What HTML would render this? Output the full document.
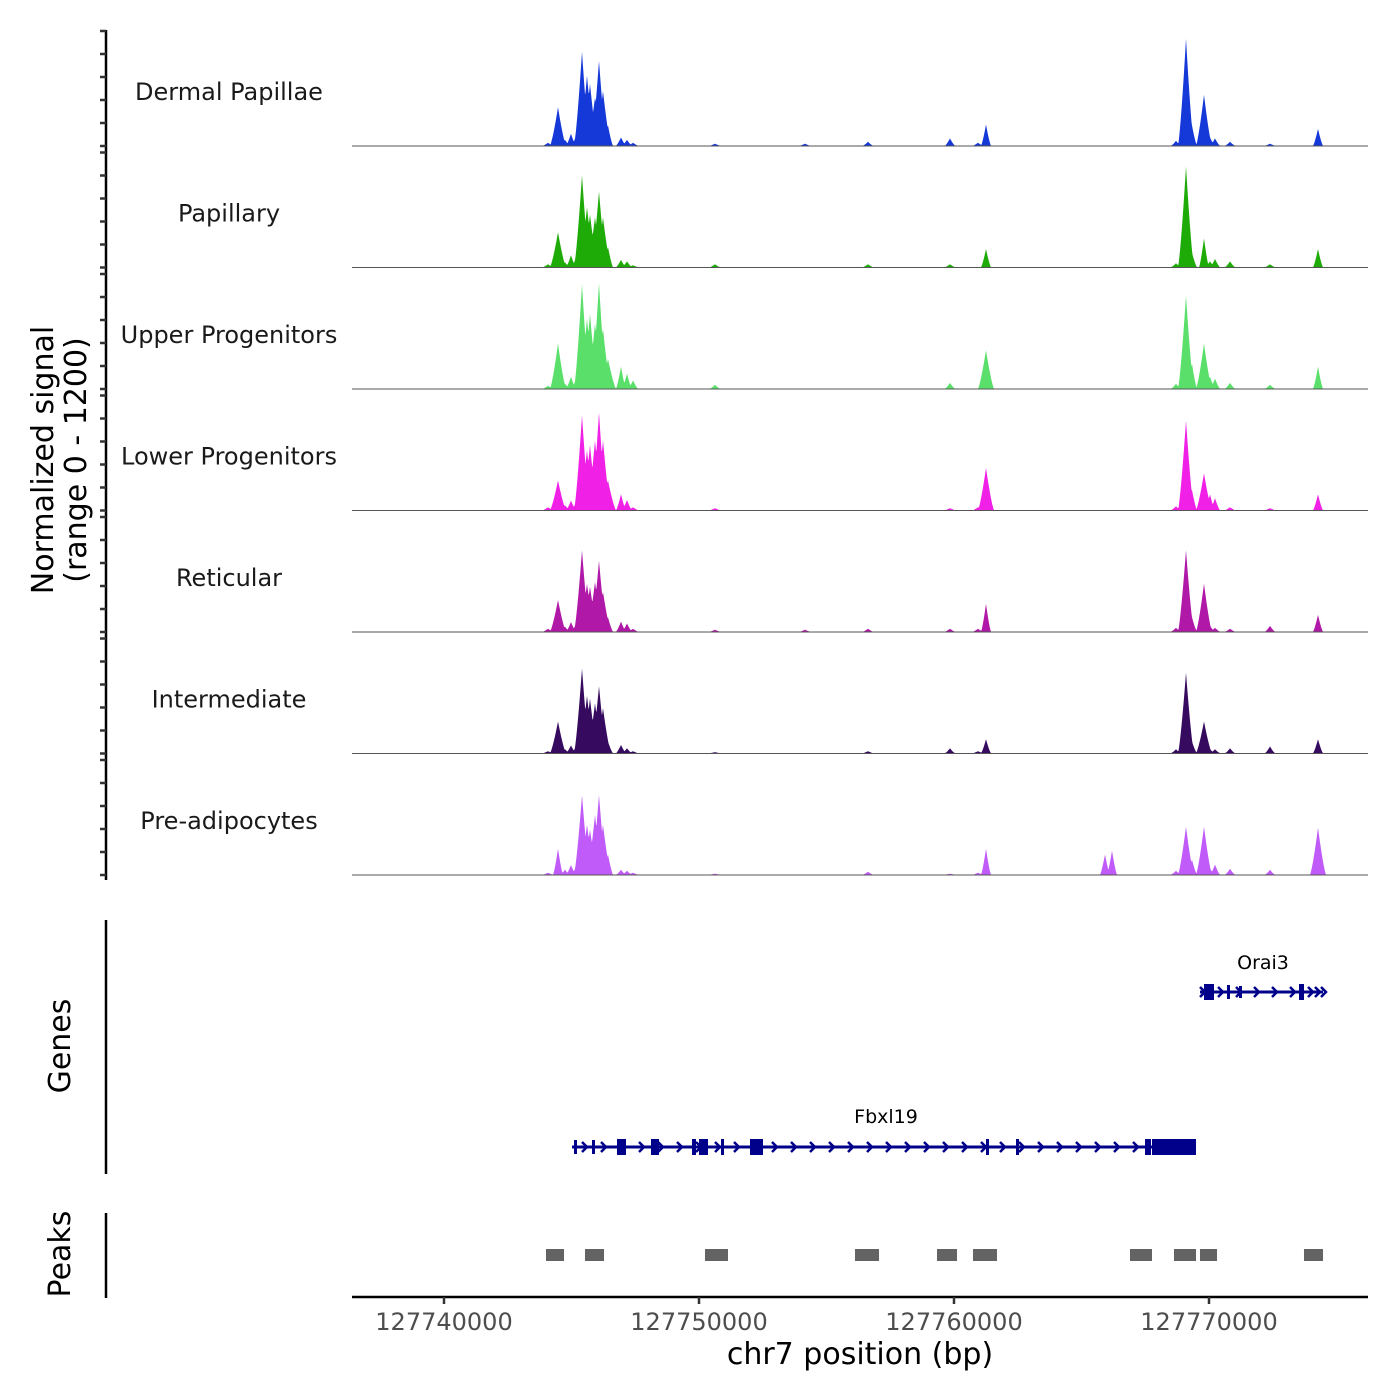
<!DOCTYPE html>
<html><head><meta charset="utf-8"><style>
body{margin:0;background:#fff}
svg{display:block;font-family:"DejaVu Sans","Liberation Sans",sans-serif}
</style></head><body>
<svg id="c" width="1400" height="1400" viewBox="0 0 1400 1400">
<g id="tracks"></g>
<g id="yaxis"></g>
<text transform="translate(53,460) rotate(-90)" text-anchor="middle" font-size="30" fill="#000">Normalized signal</text>
<text transform="translate(86,460) rotate(-90)" text-anchor="middle" font-size="30" fill="#000">(range 0 - 1200)</text>
<line x1="106" y1="920" x2="106" y2="1174" stroke="#000" stroke-width="2.5"/>
<text transform="translate(70,1046) rotate(-90)" text-anchor="middle" font-size="30">Genes</text>
<line x1="106" y1="1213" x2="106" y2="1298" stroke="#000" stroke-width="2.5"/>
<text transform="translate(70,1254) rotate(-90)" text-anchor="middle" font-size="30">Peaks</text>
<g id="genes"></g>
<g id="peaks"></g>
<g id="xaxis"></g>
<text x="860" y="1364" text-anchor="middle" font-size="30">chr7 position (bp)</text>
</svg>
<script>
const NS="http://www.w3.org/2000/svg";
// ---- data ----
const trackNames=["Dermal Papillae","Papillary","Upper Progenitors","Lower Progenitors","Reticular","Intermediate","Pre-adipocytes"];
const trackColors=["#1538d8","#1eab08","#5ae06a","#f020e6","#b018a8","#360a5e","#c05af8"];
// peak centre offsets (bp from 127740000)
const peakPos=[4078,4471,4745,4980,5216,5412,5608,5725,5922,6078,6235,6431,6941,7176,7412,10627,14157,16627,19843,20941,21255,25922,26196,28706,29098,29333,29804,30039,30235,30824,32392,34275];
const sigDermal=[30,400,60,125,145,980,730,645,500,885,570,210,85,60,30,20,20,40,75,30,220,0,0,50,1115,210,530,85,75,40,20,175];
const sigPapillary=[30,365,50,125,145,960,625,550,520,790,520,210,75,60,20,30,0,30,30,0,190,0,0,40,1050,150,300,60,85,60,30,190];
const sigUpper=[30,470,50,125,145,1090,730,780,680,1100,625,310,230,155,85,40,0,0,60,0,400,0,0,50,970,260,470,125,105,60,40,230];
const sigLower=[30,310,50,100,120,990,625,680,730,1020,730,310,165,105,30,20,0,0,20,30,440,0,0,40,935,210,385,165,125,30,20,165];
const sigReticular=[30,330,50,100,120,850,500,470,520,740,415,150,105,85,30,20,20,30,30,30,290,0,0,40,850,150,500,60,40,30,60,175];
const sigIntermediate=[20,330,40,80,100,885,600,570,520,700,470,120,85,50,20,10,0,20,50,20,145,0,0,40,840,120,330,40,40,50,70,145];
const sigPreadip=[20,270,50,100,120,830,520,470,625,830,520,210,50,40,20,10,0,30,10,20,270,210,250,40,500,155,500,60,105,60,50,490];
const trackSignals=[sigDermal,sigPapillary,sigUpper,sigLower,sigReticular,sigIntermediate,sigPreadip];
const xTicks=[127740000,127750000,127760000,127770000];
const peakStarts=[4000,5529,10235,16118,19333,20745,26902,28627,29647,33725];
const peakEnds=[4706,6275,11137,17059,20118,21686,27765,29490,30314,34471];
// ---- scales ----
const X0=127740000;
const xS=bp=>444+(bp-X0)/10000*255;
const xOff=o=>444+o/10000*255;
const base0=146, trackH=121.5, yMax=1200, yPix=115;

const tg=document.getElementById('tracks');
trackSignals.forEach((sig,i)=>{
  const b=base0+i*trackH;
  const pts=[];
  for(let px=352;px<=1368;px+=0.5){
    let v=0;
    peakPos.forEach((p,k)=>{
      const d=Math.abs(px-xOff(p));
      const hw=sig[k]>300?8:5;
      if(d<hw){v=Math.max(v,sig[k]*Math.pow(1-d/hw,1.3));}
    });
    v+=4;
    pts.push(px.toFixed(1)+','+(b - v/yMax*yPix).toFixed(1));
  }
  const poly=document.createElementNS(NS,'polygon');
  poly.setAttribute('points','352,'+b+' '+pts.join(' ')+' 1368,'+b);
  poly.setAttribute('fill',trackColors[i]);
  
  
  tg.appendChild(poly);
  const bl=document.createElementNS(NS,'line');
  bl.setAttribute('x1',352);bl.setAttribute('x2',1368);bl.setAttribute('y1',b);bl.setAttribute('y2',b);
  bl.setAttribute('stroke','#555');bl.setAttribute('stroke-width','1');
  
  
  tg.appendChild(bl);
  const t=document.createElementNS(NS,'text');
  t.setAttribute('x',229);t.setAttribute('y',b-46);t.setAttribute('text-anchor','middle');
  t.setAttribute('font-size','24');t.setAttribute('fill','#1a1a1a');
  t.textContent=trackNames[i];
  
  
  tg.appendChild(t);
});
// y axis
const ya=document.getElementById('yaxis');
let yh='<line x1="106" y1="30" x2="106" y2="880" stroke="#000" stroke-width="2.5"/>';
for(let i=0;i<7;i++){for(let k=0;k<=5;k++){const y=base0+i*trackH-k*23;yh+=`<line x1="100" x2="106" y1="${y}" y2="${y}" stroke="#333" stroke-width="2.5"/>`;}}
ya.innerHTML=yh;
// genes
const gg=document.getElementById('genes');
function chevs(x1,x2,y,step){let s='';for(let x=x1;x<x2;x+=step){s+=`<polyline points="${x-3},${y-5} ${x+2},${y} ${x-3},${y+5}" fill="none" stroke="#00008b" stroke-width="2.5"/>`;}return s;}
let gh='';
gh+='<text x="886" y="1123" text-anchor="middle" font-size="19">Fbxl19</text>';
gh+='<g><line x1="572" x2="1195" y1="1147" y2="1147" stroke="#00008b" stroke-width="3"/>'+chevs(585,1140,1147,19);
[[574,3,14],[592,3,14],[617,9,16],[651,8,16],[692,4,16],[699,9,16],[721,3,16],[750,13,16],[986,3,16],[1016,3,16],[1145,6,16],[1152,44,16]].forEach(e=>{gh+=`<rect x="${e[0]}" y="${1147-e[2]/2}" width="${e[1]}" height="${e[2]}" fill="#00008b"/>`});
gh+='</g>';
gh+='<text x="1263" y="969" text-anchor="middle" font-size="19">Orai3</text>';
gh+='<g><line x1="1200" x2="1323" y1="992" y2="992" stroke="#00008b" stroke-width="3"/>'+chevs(1203,1325,992,18)+chevs(1318,1326,992,6);
[[1204,10,16],[1227,3,14],[1239,3,12],[1299,5,16]].forEach(e=>{gh+=`<rect x="${e[0]}" y="${992-e[2]/2}" width="${e[1]}" height="${e[2]}" fill="#00008b"/>`});
gh+='</g>';
gg.innerHTML=gh;
// peaks
const pg=document.getElementById('peaks');
peakStarts.forEach((s,k)=>{
  const r=document.createElementNS(NS,'rect');
  r.setAttribute('x',xOff(s));r.setAttribute('width',xOff(peakEnds[k])-xOff(s));
  r.setAttribute('y',1249);r.setAttribute('height',12);r.setAttribute('fill','#636363');
  
  
  pg.appendChild(r);
});
// x axis
const xa=document.getElementById('xaxis');
let xh='<line x1="352" x2="1368" y1="1297" y2="1297" stroke="#000" stroke-width="2.5"/>';
xTicks.forEach(t=>{const x=xS(t);xh+=`<line x1="${x}" x2="${x}" y1="1297" y2="1304" stroke="#333" stroke-width="2.5"/><text x="${x}" y="1330" text-anchor="middle" font-size="24" fill="#4d4d4d">${t}</text>`;});
xa.innerHTML=xh;
</script>
</body></html>
